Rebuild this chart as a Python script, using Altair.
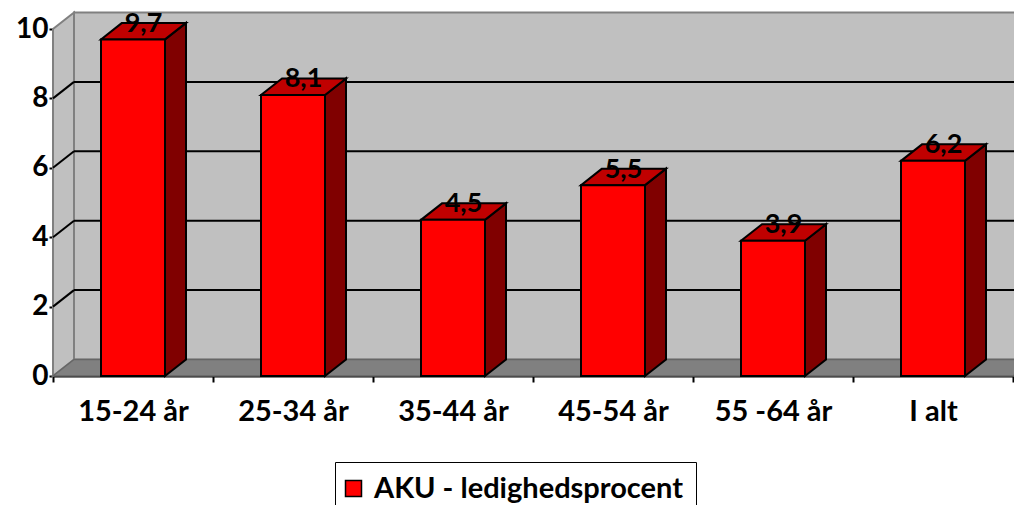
import altair as alt
import pandas as pd

# ---- data ----
categories = ["15-24 år", "25-34 år", "35-44 år", "45-54 år", "55 -64 år", "I alt"]
values = [9.7, 8.1, 4.5, 5.5, 3.9, 6.2]
value_labels = ["9,7", "8,1", "4,5", "5,5", "3,9", "6,2"]
y_ticks = [0, 2, 4, 6, 8, 10]
series_name = "AKU - ledighedsprocent"

# ---- 3D geometry (style) ----
N = len(categories)
YMAX = 10
W, H = 960, 347
DX = 21 / (W / N)        # depth offset in category units
DY = 16.5 / (H / YMAX)   # depth offset in value units
BAR_L, BAR_R = 0.3, 0.7

FONT = "Lato"
xs = alt.Scale(domain=[0, N], nice=False, zero=False)
ys = alt.Scale(domain=[0, YMAX], nice=False, zero=False)

label_expr = "datum.value < %d ? %s[datum.value] : ''" % (
    N, "[" + ",".join("'%s'" % c for c in categories) + "]")

xaxis = alt.Axis(values=list(range(N + 1)), labelExpr=label_expr, labelOffset=(W / N) / 2,
                 title=None, grid=False, domainColor="black", domainWidth=2,
                 tickColor="black", tickWidth=2, tickSize=6, labelFont=FONT,
                 labelFontWeight="bold", labelFontSize=29, labelColor="black",
                 labelPadding=15, labelFlush=False, labelOverlap=False)
yaxis = alt.Axis(values=y_ticks, title=None, grid=False, domainColor="black", domainWidth=2,
                 tickColor="black", tickWidth=2, tickSize=4, labelFont=FONT,
                 labelFontWeight="bold", labelFontSize=28, labelColor="black",
                 labelPadding=1)


def X(f):
    return alt.X(f, type="quantitative", scale=xs, axis=xaxis)


def Y(f):
    return alt.Y(f, type="quantitative", scale=ys, axis=yaxis, stack=None)


# walls and floor
back = pd.DataFrame({"x": [DX], "x2": [N + DX], "y": [DY], "y2": [YMAX + DY]})
back_wall = alt.Chart(back).mark_rect(fill="#c0c0c0", stroke="#808080", strokeWidth=2).encode(
    x=X("x"), x2="x2", y=Y("y"), y2="y2")

side = pd.DataFrame({"x": [0, DX], "lo": [0, DY], "hi": [YMAX, YMAX + DY]})
side_wall = alt.Chart(side).mark_area(orient="vertical", fill="#c0c0c0", stroke="#808080",
                                      strokeWidth=2).encode(x=X("x"), y=Y("lo"), y2="hi")

floor = pd.DataFrame({"y": [0, DY], "xa": [0, DX], "xb": [N, N + DX]})
floor_l = alt.Chart(floor).mark_area(orient="horizontal", fill="#808080", stroke="#666666",
                                     strokeWidth=1.5).encode(y=Y("y"), x=X("xa"), x2="xb")

grid_vals = [t for t in y_ticks if 0 < t < YMAX]
grid = pd.DataFrame({"v": grid_vals})
grid["vb"] = grid["v"] + DY
grid["xa"] = DX
grid["xb"] = N + DX
grid["x0"] = 0.0
back_grid = alt.Chart(grid).mark_rule(color="black", strokeWidth=2).encode(
    x=X("xa"), x2="xb", y=Y("vb"))
side_grid = alt.Chart(grid).mark_rule(color="black", strokeWidth=2).encode(
    x=X("x0"), x2="xa", y=Y("v"), y2="vb")

# bars
bars = pd.DataFrame({"cat": categories, "value": values, "label": value_labels})
bars["idx"] = range(N)
bars["x0"] = bars["idx"] + BAR_L
bars["x1"] = bars["idx"] + BAR_R
bars["zero"] = 0.0
bars["series"] = series_name
bars["tx"] = bars["idx"] + 0.5 + DX / 2
bars["ty"] = bars["value"] + DY

side_rows, top_rows = [], []
for i, v in enumerate(values):
    side_rows += [{"bar": i, "x": i + BAR_R, "lo": 0.0, "hi": v},
                  {"bar": i, "x": i + BAR_R + DX, "lo": DY, "hi": v + DY}]
    top_rows += [{"bar": i, "y": v, "xa": i + BAR_L, "xb": i + BAR_R},
                 {"bar": i, "y": v + DY, "xa": i + BAR_L + DX, "xb": i + BAR_R + DX}]
side_df = pd.DataFrame(side_rows)
top_df = pd.DataFrame(top_rows)

bar_side = alt.Chart(side_df).mark_area(orient="vertical", fill="#800000", stroke="black",
                                        strokeWidth=2).encode(
    x=X("x"), y=Y("lo"), y2="hi", detail="bar:N")
bar_top = alt.Chart(top_df).mark_area(orient="horizontal", fill="#c00000", stroke="black",
                                      strokeWidth=2).encode(
    y=Y("y"), x=X("xa"), x2="xb", detail="bar:N")

legend = alt.Legend(orient="none", legendX=282, legendY=433, title=None, strokeColor="black",
                    padding=12, fillColor="white", labelFont=FONT, labelFontWeight="bold",
                    labelFontSize=29, labelLimit=0, labelColor="black", symbolType="square",
                    symbolSize=256, symbolStrokeColor="black", symbolStrokeWidth=1.5,
                    symbolOpacity=1, labelOffset=6, symbolOffset=-8)
bar_front = alt.Chart(bars).mark_rect(stroke="black", strokeWidth=2, opacity=1).encode(
    x=X("x0"), x2="x1", y=Y("zero"), y2="value",
    color=alt.Color("series:N", scale=alt.Scale(range=["#ff0000"]), legend=legend))

text = alt.Chart(bars).mark_text(font=FONT, fontWeight="bold", fontSize=27, color="black",
                                 baseline="middle", align="center", dy=1).encode(
    x=X("tx"), y=Y("ty"), text="label:N")

chart = alt.layer(back_wall, side_wall, floor_l, back_grid, side_grid,
                  bar_side, bar_top, bar_front, text).properties(
    width=W, height=H,
    autosize=alt.AutoSizeParams(type="none"),
    padding={"left": 45, "top": 21, "right": 1, "bottom": 129},
).configure_view(stroke=None).configure(background="white")

chart.save("out.html", embed_options={"renderer": "svg", "actions": False})
